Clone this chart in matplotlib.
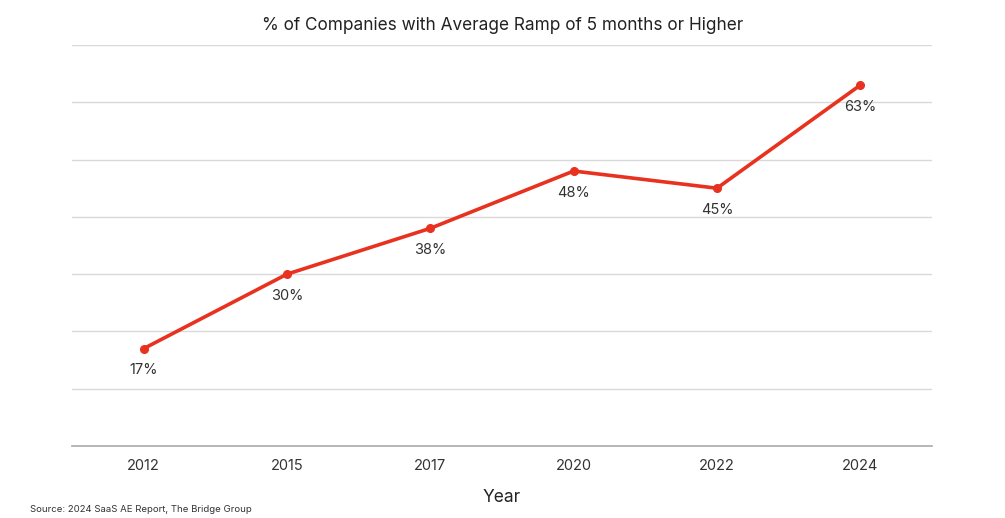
import matplotlib.pyplot as plt

plt.rcParams['font.family'] = ['Inter', 'DejaVu Sans']

years = ["2012", "2015", "2017", "2020", "2022", "2024"]
pct = [17, 30, 38, 48, 45, 63]

fig = plt.figure(figsize=(10.05, 5.18), dpi=100)
ax = fig.add_axes([72 / 1005, 1 - 446 / 518, 860 / 1005, 401 / 518])

x = list(range(len(years)))
ax.plot(x, pct, color="#e8321f", linewidth=2.6, marker="o", markersize=5.5, zorder=3)
for xi, v in zip(x, pct):
    ax.annotate(f"{v}%", (xi, v), xytext=(0, -10.5), textcoords="offset points",
                ha="center", va="top", fontsize=10.5, color="#333333")

ax.set_xlim(-0.5, len(years) - 0.5)
ax.set_ylim(0, 70)
ax.set_yticks(range(10, 71, 10))
ax.set_yticklabels([])
ax.tick_params(axis="y", length=0)
ax.grid(axis="y", color="#d9d9d9", linewidth=1)
ax.set_xticks(x)
ax.set_xticklabels(years, fontsize=10.5, color="#333333")
ax.tick_params(axis="x", length=0, pad=9)
for s in ("top", "right", "left"):
    ax.spines[s].set_visible(False)
ax.spines["bottom"].set_color("#aaaaaa")
ax.spines["bottom"].set_linewidth(1.2)

fig.text(0.5, 1 - 26 / 518, "% of Companies with Average Ramp of 5 months or Higher",
         ha="center", va="center", fontsize=12.4, color="#222222")
fig.text(502 / 1005, 1 - 497 / 518, "Year", ha="center", va="center", fontsize=12.5, color="#222222")
fig.text(30 / 1005, 1 - 509 / 518, "Source: 2024 SaaS AE Report, The Bridge Group",
         ha="left", va="center", fontsize=6.9, color="#333333")

fig.savefig("out.png", dpi=100)
